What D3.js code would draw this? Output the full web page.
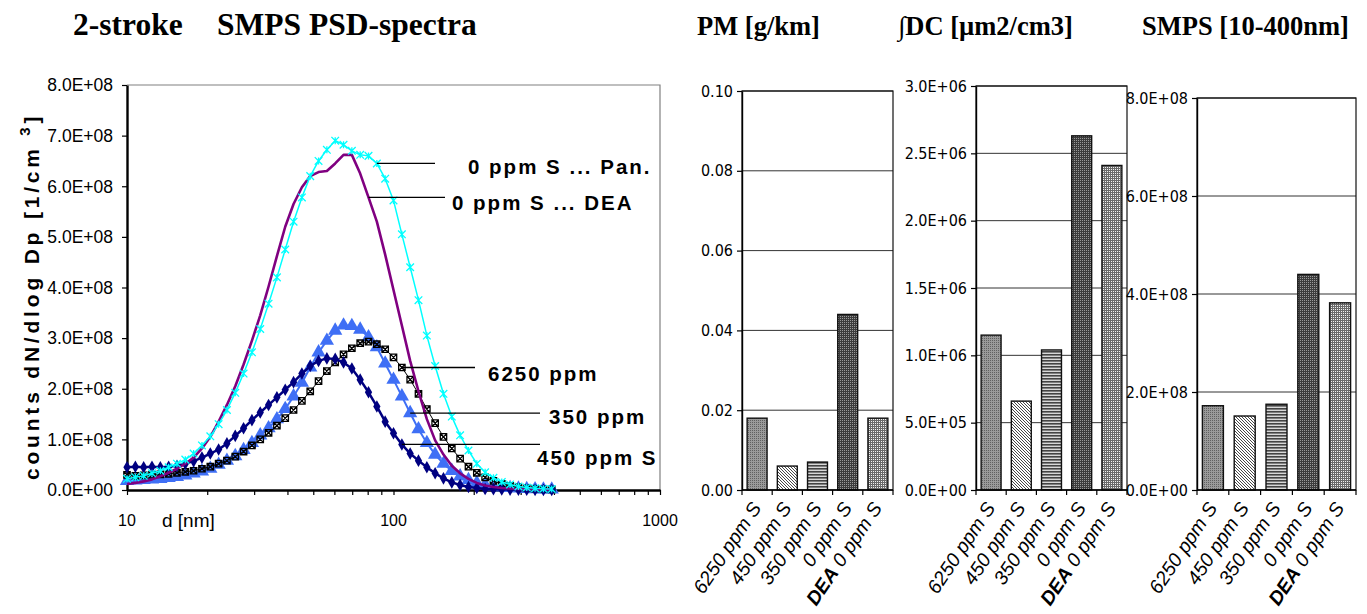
<!DOCTYPE html>
<html>
<head>
<meta charset="utf-8">
<script src="https://cdn.jsdelivr.net/npm/d3@7"></script>
<style>
body { margin:0; background:#fff; }
svg text { fill:#000; }
</style>
</head>
<body>
<svg id="chart" width="1367" height="614"></svg>
<script>
// SMPS channel diameters [nm]
const diameters = [10.0,10.75,11.55,12.41,13.34,14.33,15.40,16.55,17.78,19.11,20.54,22.07,23.71,25.48,27.38,29.43,
  31.62,33.98,36.52,39.24,42.17,45.32,48.70,52.33,56.23,60.43,64.94,69.78,74.99,80.58,86.60,93.06,
  100.0,107.5,115.5,124.1,133.4,143.3,154.0,165.5,177.8,191.1,205.4,220.7,237.1,254.8,273.8,294.3,316.2,339.8,365.2,392.4];

// dN/dlogDp in units of 1E+08 per cm3
const panValues = [0.22,0.25,0.28,0.33,0.38,0.45,0.52,0.60,0.72,0.88,1.06,1.30,1.58,1.92,2.30,2.72,
  3.18,3.68,4.20,4.75,5.30,5.78,6.20,6.50,6.72,6.90,6.82,6.70,6.62,6.60,6.45,6.15,
  5.72,5.05,4.40,3.75,3.05,2.45,1.90,1.45,1.08,0.78,0.52,0.35,0.24,0.16,0.11,0.07,0.05,0.035,0.025,0.02];
const deaValues = [0.12,0.14,0.17,0.21,0.27,0.34,0.42,0.52,0.64,0.82,1.05,1.35,1.68,2.05,2.48,2.95,
  3.45,4.02,4.62,5.20,5.65,5.98,6.20,6.28,6.30,6.45,6.62,6.62,6.25,5.78,5.30,4.65,
  3.95,3.25,2.55,1.95,1.40,0.98,0.70,0.48,0.33,0.22,0.14,0.09,0.06,0.04,0.03,0.02,0.015,0.01,0.01,0.01];
const s6250Values = [0.30,0.28,0.29,0.30,0.31,0.32,0.34,0.36,0.38,0.42,0.46,0.52,0.58,0.66,0.76,0.88,
  1.00,1.13,1.27,1.42,1.58,1.76,1.95,2.15,2.35,2.52,2.68,2.80,2.90,2.93,2.88,2.78,
  2.62,2.42,2.18,1.90,1.60,1.32,1.05,0.82,0.62,0.46,0.34,0.25,0.18,0.12,0.08,0.05,0.035,0.025,0.015,0.01];
const s350Values = [0.18,0.19,0.20,0.21,0.22,0.24,0.26,0.29,0.33,0.37,0.42,0.50,0.58,0.67,0.79,0.93,
  1.08,1.22,1.40,1.60,1.85,2.12,2.42,2.72,2.95,3.15,3.25,3.24,3.17,3.02,2.82,2.50,
  2.18,1.85,1.52,1.20,0.93,0.70,0.52,0.38,0.27,0.20,0.14,0.10,0.07,0.05,0.04,0.03,0.02,0.015,0.01,0.01];
const s450Values = [0.45,0.46,0.45,0.46,0.45,0.46,0.48,0.52,0.57,0.64,0.72,0.80,0.92,1.07,1.22,1.38,
  1.53,1.68,1.83,1.98,2.13,2.30,2.45,2.55,2.60,2.59,2.52,2.40,2.18,1.93,1.65,1.35,
  1.12,0.90,0.72,0.58,0.45,0.33,0.23,0.15,0.10,0.06,0.04,0.02,0.015,0.01,0.008,0.005,0.004,0.003,0.002,0.002];

const xTickValues = [10,20,30,40,50,60,70,80,90,100,200,300,400,500,600,700,800,900,1000];
const xLabelValues = [10, 100, 1000];

const barCats = ['6250 ppm S','450 ppm S','350 ppm S','0 ppm S','DEA 0 ppm S'];
const pmValues = [0.018,0.006,0.007,0.044,0.018];
const dcValues = [1.15e6,0.66e6,1.04e6,2.63e6,2.41e6];
const smpsValues = [1.72e8,1.51e8,1.75e8,4.40e8,3.82e8];

const SANS = '"Liberation Sans", Arial, sans-serif';
const SERIF = '"Liberation Serif", "Times New Roman", serif';
const NARROW = '"Liberation Sans Narrow", "Arial Narrow", "DejaVu Sans Condensed", sans-serif';

const svg = d3.select('#chart');

// 2.5E+06 style labels
function sci(v) {
  if (v === 0) return '0.0E+00';
  const e = Math.floor(Math.log10(Math.abs(v)) + 1e-9);
  const m = v / Math.pow(10, e);
  return m.toFixed(1) + 'E' + (e < 0 ? '-' : '+') + String(Math.abs(e)).padStart(2, '0');
}

function styleAxis(g, size, family, width) {
  g.attr('font-size', size).attr('font-family', family);
  g.select('.domain').attr('stroke', '#000').attr('stroke-width', width);
  g.selectAll('.tick line').attr('stroke', '#000').attr('stroke-width', 1.2);
  g.selectAll('.tick text').attr('font-size', size).attr('font-family', family).attr('fill', '#000');
}

// ---------- bar fill patterns ----------
const defs = svg.append('defs');
function pattern(id, w, h, bg, draw) {
  const p = defs.append('pattern').attr('id', id).attr('patternUnits', 'userSpaceOnUse')
    .attr('width', w).attr('height', h);
  p.append('rect').attr('width', w).attr('height', h).attr('fill', bg);
  draw(p);
}
pattern('pat0', 2, 2, '#9a9a9a', p => p.append('rect').attr('width', 1).attr('height', 1).attr('fill', '#606060'));
pattern('pat1', 3, 3, '#ffffff', p => p.append('path').attr('d', 'M-1,-1L4,4M-1,2L1,4M2,-1L4,1').attr('stroke', '#333').attr('stroke-width', 0.9));
pattern('pat2', 1, 3, '#d8d8d8', p => p.append('rect').attr('width', 1).attr('height', 1.6).attr('fill', '#444'));
pattern('pat3', 2, 2, '#3c3c3c', p => p.append('rect').attr('width', 1).attr('height', 1).attr('fill', '#9a9a9a'));
pattern('pat4', 2, 2, '#f2f2f2', p => p.append('path').attr('d', 'M0,0.5H2M0.5,0V2').attr('stroke', '#6a6a6a').attr('stroke-width', 1));

// ---------- titles ----------
svg.append('text').attr('x', 73).attr('y', 35)
  .attr('font-family', SERIF).attr('font-weight', 'bold').attr('font-size', 31.5)
  .call(t => { t.append('tspan').text('2-stroke'); t.append('tspan').attr('x', 217).text('SMPS PSD-spectra'); });

// ---------- PSD line chart ----------
const lc = {left:127, right:660, top:85, bottom:490};
const x = d3.scaleLog().domain([10, 1000]).range([lc.left, lc.right]);
const y = d3.scaleLinear().domain([0, 8]).range([lc.bottom, lc.top]);

svg.append('path')
  .attr('d', `M${lc.left},${lc.top}H${lc.right}V${lc.bottom}`)
  .attr('fill', 'none').attr('stroke', '#808080').attr('stroke-width', 1.2);

svg.append('g').attr('transform', `translate(${lc.left},0)`)
  .call(d3.axisLeft(y).ticks(8).tickSize(5).tickSizeOuter(0).tickFormat(''))
  .call(styleAxis, 15, SANS, 2.4);
svg.append('g').attr('transform', `translate(0,${lc.bottom})`)
  .call(d3.axisBottom(x).tickValues(xTickValues).tickSize(5).tickSizeOuter(0).tickFormat(''))
  .call(styleAxis, 15, SANS, 2.4);

// tick labels written out directly
svg.append('g').selectAll('text').data(y.ticks(8)).join('text')
  .attr('x', lc.left - 14).attr('y', d => y(d)).attr('dy', '0.36em')
  .attr('text-anchor', 'end')
  .style('font-family', SANS).style('font-size', '17.5px')
  .text(d => sci(d * 1e8));
svg.append('g').selectAll('text').data(xLabelValues).join('text')
  .attr('x', d => x(d)).attr('y', lc.bottom + 36)
  .attr('text-anchor', 'middle')
  .style('font-family', SANS).style('font-size', '16px')
  .text(d => String(d));

svg.append('text').attr('x', 162).attr('y', 527)
  .style('font-family', SANS).style('font-size', '19px').text('d [nm]');

svg.append('text')
  .attr('transform', `translate(39,480) rotate(-90)`)
  .style('font-family', SANS).style('font-size', '21px').style('font-weight', 'bold').style('letter-spacing', '3.8px')
  .call(t => {
    t.append('tspan').text('counts dN/dlog Dp [1/cm ');
    t.append('tspan').attr('dy', -9).style('font-size', '15px').text('3');
    t.append('tspan').attr('dy', 9).text(']');
  });

const line = d3.line().x((d, i) => x(diameters[i])).y(d => y(d));

const series = [
  {values: s350Values, color: '#3f6ff5', width: 2, marker: d3.symbol(d3.symbolTriangle, 88)(), filled: true},
  {values: s6250Values, color: '#000', width: 1, marker: 'M-3.2,-3.2h6.4v6.4h-6.4zM-3.5,-3.5L3.5,3.5M-3.5,3.5L3.5,-3.5', filled: false},
  {values: s450Values, color: '#000080', width: 2.5, marker: d3.symbol(d3.symbolDiamond, 46)(), filled: true},
  {values: deaValues, color: '#800080', width: 2.6, marker: null},
  {values: panValues, color: '#00ffff', width: 1.5, marker: 'M-3.8,-3.8L3.8,3.8M-3.8,3.8L3.8,-3.8M0,-3.5V3.5', filled: false}
];

series.forEach(s => {
  svg.append('path').datum(s.values)
    .attr('fill', 'none').attr('stroke', s.color).attr('stroke-width', s.width)
    .attr('stroke-linejoin', 'round').attr('d', line);
  if (s.marker) {
    svg.append('g').selectAll('path').data(s.values).join('path')
      .attr('transform', (d, i) => `translate(${x(diameters[i])},${y(d)})`)
      .attr('d', s.marker)
      .attr('fill', s.filled ? s.color : 'none')
      .attr('stroke', s.filled ? 'none' : s.color)
      .attr('stroke-width', 1.3);
  }
});

// leader lines + labels
const notes = [
  {text: '0 ppm S ... Pan.', values: panValues, idx: 30, lineEnd: 435, tx: 468, ty: 174},
  {text: '0 ppm S ... DEA', values: deaValues, idx: 29, lineEnd: 445, tx: 452, ty: 210},
  {text: '6250 ppm', values: s6250Values, idx: 33, lineEnd: 475, tx: 488, ty: 381},
  {text: '350 ppm', values: s350Values, idx: 34, lineEnd: 540, tx: 549, ty: 424},
  {text: '450 ppm S', values: s450Values, idx: 33, lineEnd: 540, tx: 537, ty: 465}
];
notes.forEach(n => {
  const yy = y(n.values[n.idx]);
  svg.append('line').attr('x1', x(diameters[n.idx])).attr('x2', n.lineEnd)
    .attr('y1', yy).attr('y2', yy).attr('stroke', '#000').attr('stroke-width', 1.3);
  svg.append('text').attr('x', n.tx).attr('y', n.ty)
    .style('font-family', SANS).style('font-size', '20.5px').style('font-weight', 'bold').style('letter-spacing', '2px')
    .text(n.text);
});

// ---------- bar panels ----------
const panels = [
  {title: 'PM [g/km]', titleX: 697, values: pmValues, left: 742, right: 893, top: 91, max: 0.1, step: 0.02, fmt: d3.format('.2f')},
  {title: '\u222BDC [\u00B5m2/cm3]', titleX: 898, values: dcValues, left: 976, right: 1127, top: 86, max: 3e6, step: 5e5, fmt: sci},
  {title: 'SMPS [10-400nm]', titleX: 1142, values: smpsValues, left: 1197, right: 1356, top: 98, max: 8e8, step: 2e8, fmt: sci}
];
const barBottom = 490;

panels.forEach(p => {
  const g = svg.append('g');
  const bx = d3.scaleBand().domain(d3.range(p.values.length)).range([p.left, p.right]);
  const by = d3.scaleLinear().domain([0, p.max]).range([barBottom, p.top]);
  const ticks = d3.range(0, p.max + p.step / 2, p.step);

  g.append('text').attr('x', p.titleX).attr('y', 35)
    .style('font-family', SERIF).style('font-weight', 'bold').style('font-size', '26.5px')
    .text(p.title);

  g.selectAll('line.grid').data(ticks.slice(1)).join('line')
    .attr('x1', p.left).attr('x2', p.right)
    .attr('y1', d => by(d)).attr('y2', d => by(d))
    .attr('stroke', '#333').attr('stroke-width', 1);

  g.append('rect').attr('x', p.left).attr('y', p.top)
    .attr('width', p.right - p.left).attr('height', barBottom - p.top)
    .attr('fill', 'none').attr('stroke', '#111').attr('stroke-width', 1.2);

  g.selectAll('rect.bar').data(p.values).join('rect')
    .attr('x', (d, i) => bx(i) + bx.bandwidth() * 0.17)
    .attr('width', bx.bandwidth() * 0.66)
    .attr('y', d => by(d)).attr('height', d => barBottom - by(d))
    .attr('fill', (d, i) => `url(#pat${i})`)
    .attr('stroke', '#111').attr('stroke-width', 1.4);

  g.append('g').attr('transform', `translate(${p.left},0)`)
    .call(d3.axisLeft(by).tickValues(ticks).tickSize(5).tickSizeOuter(0).tickPadding(4).tickFormat(p.fmt))
    .call(styleAxis, 16, NARROW, 1.4);

  // category separators on the x axis
  g.selectAll('line.xt').data(d3.range(p.values.length + 1)).join('line')
    .attr('x1', i => i < p.values.length ? bx(i) : p.right)
    .attr('x2', i => i < p.values.length ? bx(i) : p.right)
    .attr('y1', barBottom).attr('y2', barBottom + 5)
    .attr('stroke', '#000').attr('stroke-width', 1.2);
  g.append('line').attr('x1', p.left).attr('x2', p.right)
    .attr('y1', barBottom).attr('y2', barBottom).attr('stroke', '#000').attr('stroke-width', 1.4);

  g.selectAll('text.cat').data(barCats).join('text')
    .attr('transform', (d, i) => `translate(${bx(i) + bx.bandwidth() / 2 + 5},508) rotate(-56)`)
    .attr('text-anchor', 'end')
    .style('font-family', SANS).style('font-size', '19.5px').style('font-style', 'italic')
    .each(function(d) {
      const t = d3.select(this);
      if (d.startsWith('DEA ')) {
        t.append('tspan').style('font-weight', 900).text('DEA');
        t.append('tspan').text(' ' + d.slice(4));
      } else {
        t.text(d);
      }
    });
});
</script>
</body>
</html>
